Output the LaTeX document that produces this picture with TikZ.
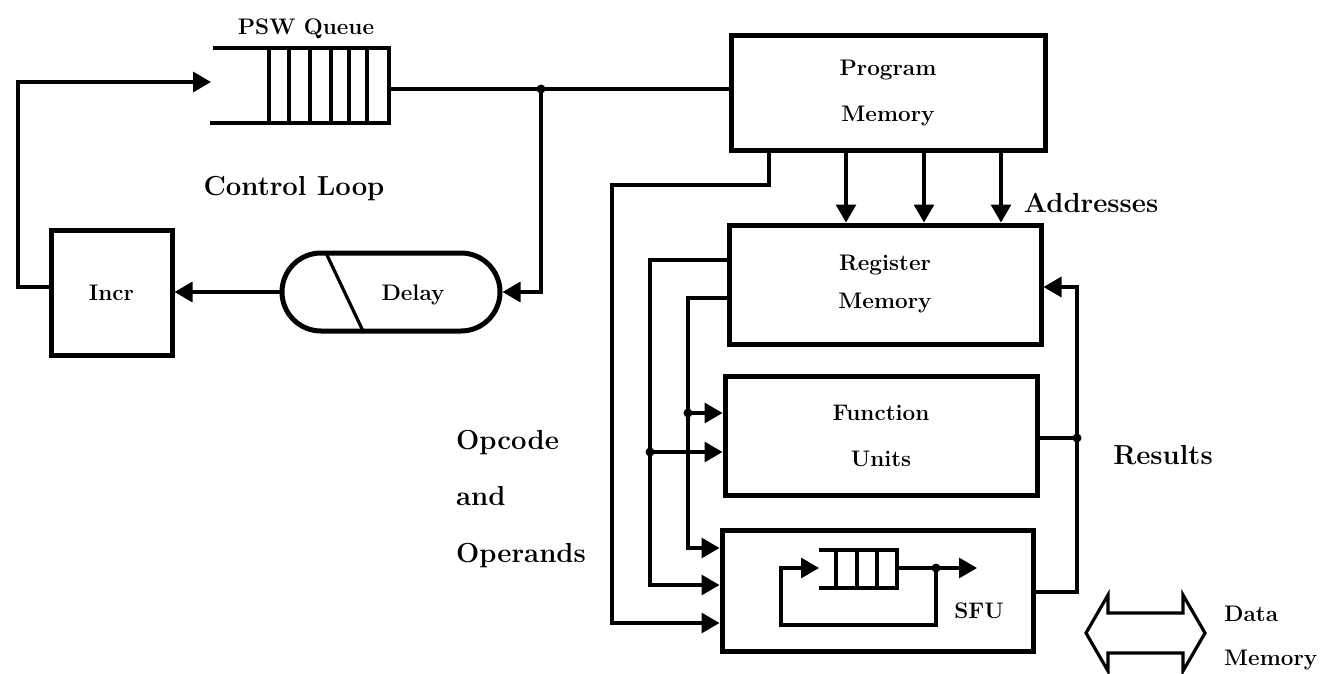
\documentclass[tikz,border=0pt]{standalone}
\usetikzlibrary{arrows.meta,shapes.misc,calc}
\begin{document}
\begin{tikzpicture}[x=1pt,y=-1pt,
  box/.style={draw,line width=5pt,inner sep=0pt,align=center},
  wire/.style={line width=3.2pt},
  arr/.style={wire,-{Triangle[length=18pt,width=20pt]}},
  dot/.style={circle,fill,inner sep=0pt,minimum size=9pt},
  lbl/.style={font=\fontsize{22.5}{46}\selectfont\bfseries,inner sep=0pt},
  big/.style={font=\fontsize{27.5}{56.5}\selectfont\bfseries,inner sep=0pt},
  qline/.style={line width=4.5pt},
  slot/.style={line width=3.2pt}
]
\useasboundingbox (0,0) rectangle (1320,674);

% boxes
\node[box,lbl,minimum width=314pt,minimum height=115pt] (pm) at (888,93.5) {Program\\Memory};
\node[box,lbl,font=\fontsize{22.5}{38}\selectfont\bfseries,minimum width=312pt,minimum height=119pt] (rm) at (885,284.5) {Register\\Memory};
\node[box,lbl,minimum width=312pt,minimum height=119pt] (fu) at (881,435.5) {Function\\Units};
\node[box,minimum width=311pt,minimum height=121pt] (sfu) at (877.5,590.5) {};
\node[lbl] (sfut) at (979,611) {SFU};
\node[box,lbl,minimum width=121pt,minimum height=125pt] (incr) at (111.5,292.5) {Incr};
\node[draw,line width=5pt,rounded rectangle,minimum width=218pt,minimum height=78pt,inner sep=0pt] (delay) at (391,292) {};
\node[lbl] (delayt) at (413,295) {Delay};
\draw[slot] (326,253) -- (363,331);

% PSW queue
\draw[qline] (213,48) -- (389,48) -- (389,123) -- (210,123);
\foreach \x in {269,289,310,331,349,367} \draw[slot] (\x,48) -- (\x,123);
\node[lbl] (pswl) at (306,29) {PSW Queue};
\coordinate (pswin) at (211,82);
\coordinate (pswout) at (389,89);

% control loop
\draw[arr] ([yshift=5.5pt]incr.west) -- (18,287) -- (18,82) -- (pswin);
\draw[wire] (pswout) -- (pswout -| pm.west);
\node[dot] (j1) at (541,89) {};
\draw[arr] (j1.center) |- (delay.east);
\draw[arr] (delay.west) -- (delay.west -| incr.east);

% addresses
\foreach \x in {846,924,1001} \draw[arr] (pm.south -| \x,0) -- (rm.north -| \x,0);

% opcode and operands
\draw[arr] (pm.south -| 769,0) -- (769,185) -- (612,185) -- (612,623) -- (sfu.west |- 0,623);
\draw[arr] (rm.west |- 0,260) -- (650,260) -- (650,585) -- (sfu.west |- 0,585);
\node[dot] (j2) at (650,452) {};
\draw[arr] (j2.center) -- (fu.west |- j2);
\draw[arr] (rm.west |- 0,298) -- (688,298) -- (688,548) -- (sfu.west |- 0,548);
\node[dot] (j3) at (688,413) {};
\draw[arr] (j3.center) -- (fu.west |- j3);

% results
\node[dot] (j4) at (1077,438) {};
\draw[wire] (fu.east |- j4) -- (j4.center);
\draw[arr] (sfu.east |- 0,592) -- (1077,592) -- (1077,287) -- (rm.east |- 0,287);

% SFU inner queue
\draw[qline] (819,550) -- (897,550) -- (897,588) -- (819,588);
\foreach \x in {836,857,877} \draw[slot] (\x,550) -- (\x,588);
\coordinate (qin) at (819,568);
\coordinate (qout) at (897,568);
\coordinate (sfuo) at (977,568);
\node[dot] (j5) at (936,568) {};
\draw[arr] (qout) -- (sfuo);
\draw[arr] (j5.center) -- (936,625) -- (781,625) -- (781,568) -- (qin);

% data memory
\draw[line width=3.2pt,line join=miter] (1086,633) -- (1108,595) -- (1108,613) -- (1183,613) -- (1183,595) -- (1205,633) -- (1183,671) -- (1183,653) -- (1108,653) -- (1108,671) -- cycle;
\node[lbl,align=left,anchor=west,font=\fontsize{22.5}{44}\selectfont\bfseries] (dm) at (1224,638) {Data\\Memory};

% labels
\node[big] (cl) at (294,189) {Control Loop};
\node[big] (addr) at (1091,203) {Addresses};
\node[big] (res) at (1163,455) {Results};
\node[big,align=left,anchor=west] (oao) at (456,499) {Opcode\\and\\Operands};
\end{tikzpicture}
\end{document}
